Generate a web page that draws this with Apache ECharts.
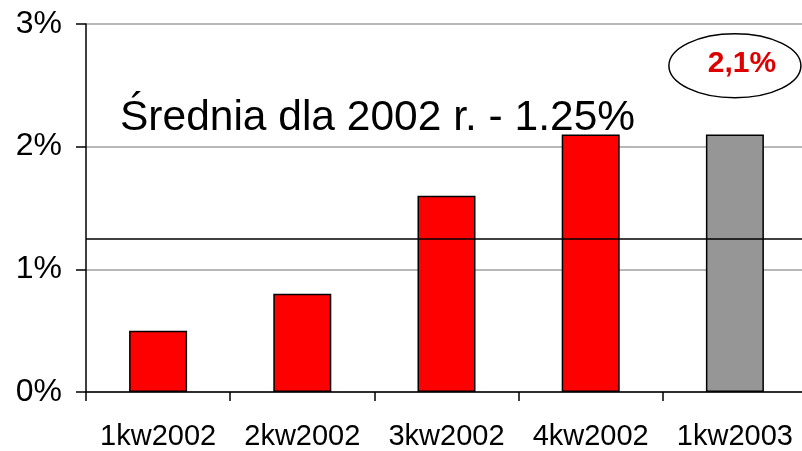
<!DOCTYPE html>
<html>
<head>
<meta charset="utf-8">
<script src="https://cdn.jsdelivr.net/npm/echarts@6/dist/echarts.min.js"></script>
<style>
  html, body { margin: 0; padding: 0; background: #fff; overflow: hidden; }
  #chart { width: 807px; height: 451px; }
</style>
</head>
<body>
<div id="chart"></div>
<script>
const categories = ['1kw2002', '2kw2002', '3kw2002', '4kw2002', '1kw2003'];
const values = [0.5, 0.8, 1.6, 2.1, 2.1];
const barColors = ['#ff0000', '#ff0000', '#ff0000', '#ff0000', '#969696'];
const average2002 = 1.25;
const yTicks = [0, 1, 2, 3];

const FONT = '"Liberation Sans", Arial, sans-serif';

const chart = echarts.init(document.getElementById('chart'), null, { renderer: 'canvas' });

chart.setOption({
  animation: false,
  backgroundColor: '#fff',
  grid: { left: 86, top: 24, right: 0, bottom: 58, containLabel: false },
  xAxis: {
    type: 'category',
    data: categories,
    boundaryGap: true,
    axisLine: { show: true, lineStyle: { color: '#000', width: 1.5 } },
    axisTick: { show: true, length: 9, lineStyle: { color: '#000', width: 1.5 } },
    axisLabel: { color: '#000', fontFamily: FONT, fontSize: 29, margin: 30, interval: 0 },
    splitLine: { show: false }
  },
  yAxis: {
    type: 'value',
    min: yTicks[0],
    max: yTicks[yTicks.length - 1],
    interval: 1,
    axisLine: { show: true, lineStyle: { color: '#000', width: 1.5 } },
    axisTick: { show: true, length: 10, lineStyle: { color: '#000', width: 1.5 } },
    axisLabel: { color: '#000', fontFamily: FONT, fontSize: 32, margin: 24, formatter: '{value}%' },
    splitLine: { show: true, lineStyle: { color: '#a0a0a0', width: 1.5 } }
  },
  series: [{
    type: 'bar',
    barWidth: 58,
    data: values.map((v, i) => ({
      value: v,
      itemStyle: { color: barColors[i], borderColor: '#000', borderWidth: 1.5 }
    })),
    markLine: {
      silent: true,
      symbol: 'none',
      label: { show: false },
      lineStyle: { color: '#000', width: 1.5, type: 'solid' },
      data: [{ yAxis: average2002 }]
    }
  }]
});

// annotations: average caption and highlighted last value
const last = values[values.length - 1];
const bubble = chart.convertToPixel({ seriesIndex: 0 }, [categories.length - 1, 2.66]);
chart.setOption({
  graphic: [
    {
      type: 'text',
      left: 120,
      top: 97,
      style: {
        text: 'Średnia dla 2002 r. - ' + average2002.toFixed(2) + '%',
        font: '42.5px ' + FONT,
        fill: '#000'
      }
    },
    {
      type: 'ellipse',
      shape: { cx: bubble[0], cy: bubble[1], rx: 66, ry: 32 },
      style: { fill: '#fff', stroke: '#000', lineWidth: 1.5 }
    },
    {
      type: 'text',
      x: bubble[0] + 7,
      y: bubble[1] - 2,
      style: {
        text: last.toFixed(1).replace('.', ',') + '%',
        font: 'bold 30px ' + FONT,
        fill: '#dd0000',
        align: 'center',
        verticalAlign: 'middle'
      }
    }
  ]
});
</script>
</body>
</html>
